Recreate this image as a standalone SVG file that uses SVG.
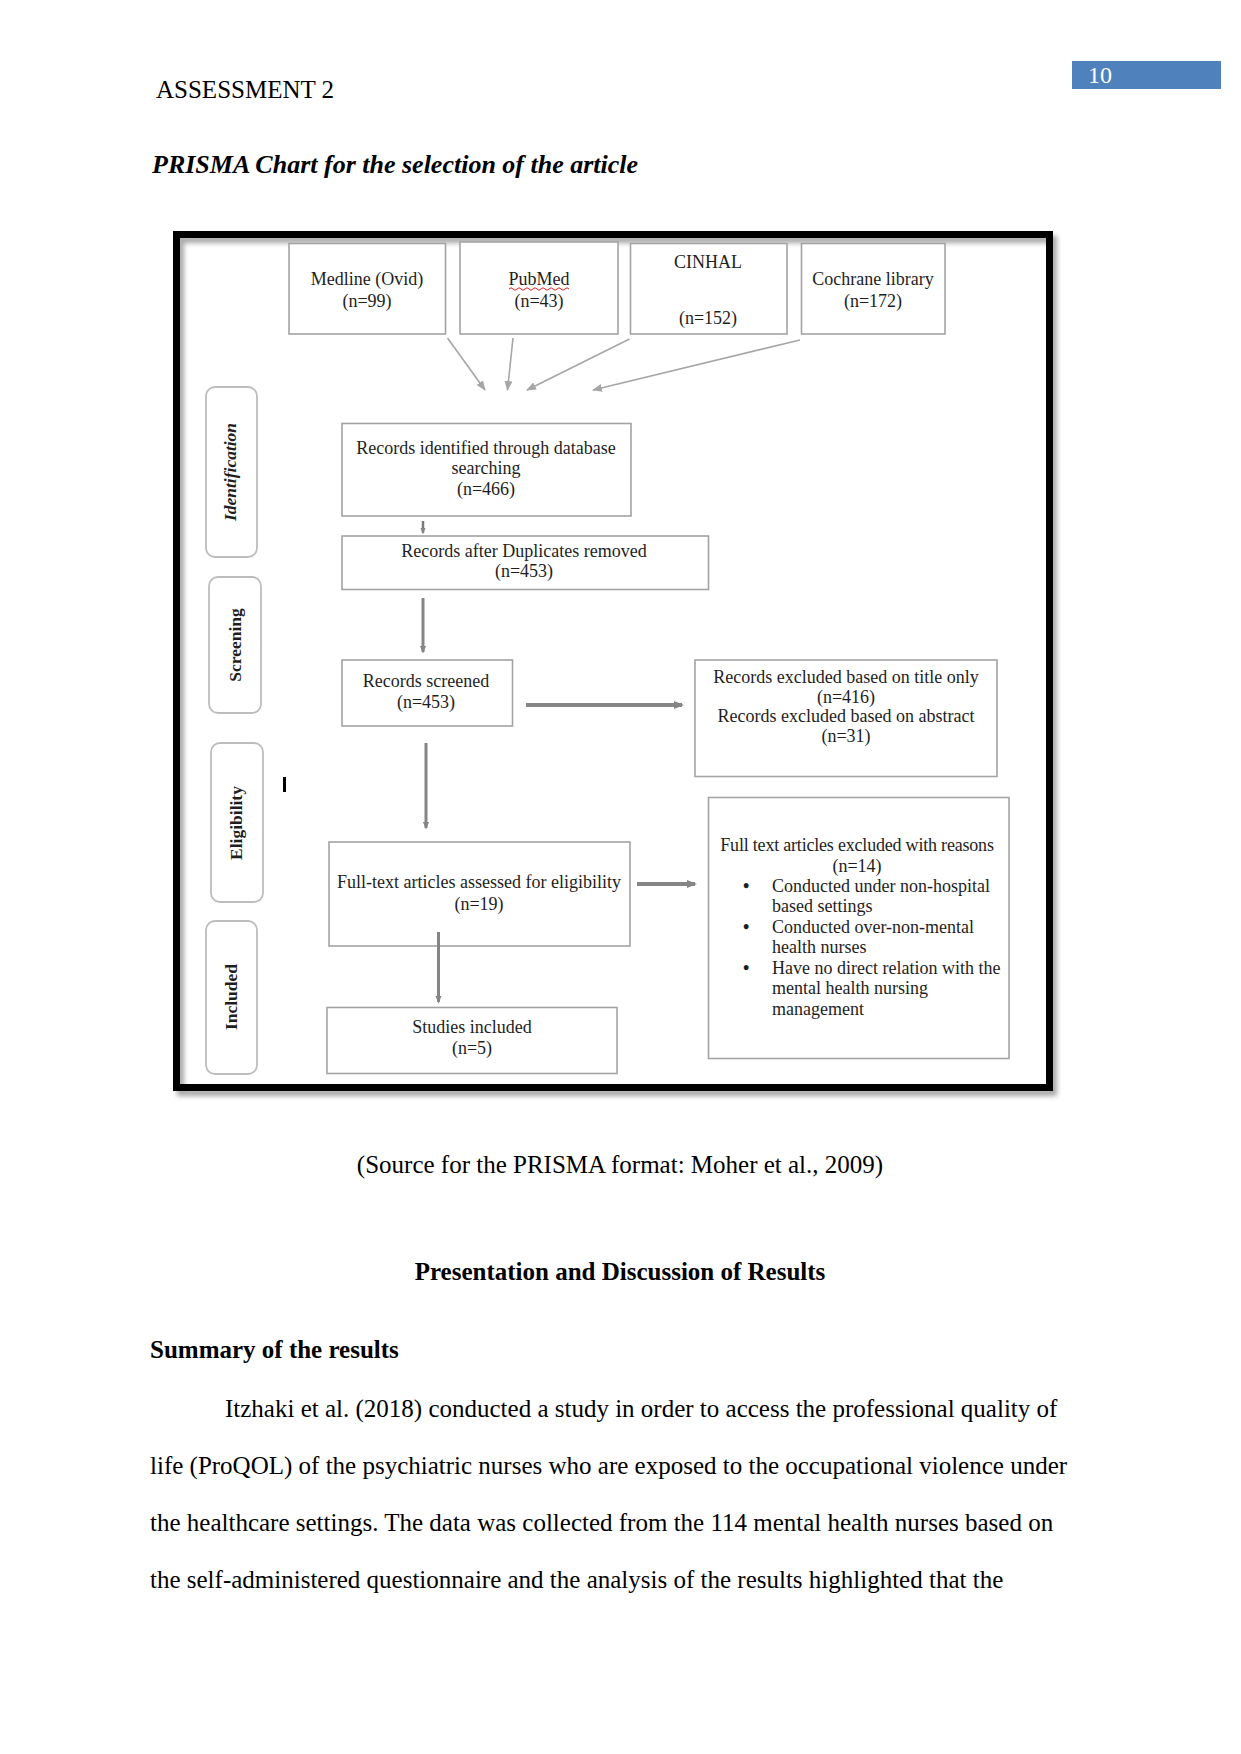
<svg xmlns="http://www.w3.org/2000/svg" width="1241" height="1754" viewBox="0 0 1241 1754">
<style>
  .page { font-family: "Liberation Serif", "Times New Roman", serif; fill: #000; font-size: 25px; }
  .dg { font-family: "Liberation Serif", "Times New Roman", serif; fill: #1e1e1e; font-size: 18px; }
  .mid { text-anchor: middle; }
  .box { fill: #fff; stroke: #a3a3a3; stroke-width: 1.6; }
  .phase { fill: #fff; stroke: #bdbdbd; stroke-width: 1.8; }
  .plabel { font-family: "Liberation Serif", "Times New Roman", serif; font-weight: bold; font-size: 17.5px; fill: #1e1e1e; text-anchor: middle; }
  .thin { stroke: #a6a6a6; stroke-width: 1.6; fill: none; marker-end: url(#ahThin); }
  .thick { stroke: #858585; stroke-width: 3; fill: none; marker-end: url(#ahThick); }
  .thicker { stroke: #858585; stroke-width: 4; fill: none; marker-end: url(#ahThick); }
</style>
<defs>
  <marker id="ahThin" markerUnits="userSpaceOnUse" markerWidth="10" markerHeight="8" refX="9" refY="4" orient="auto" viewBox="0 0 10 8">
    <path d="M0,0 L10,4 L0,8 z" fill="#a6a6a6"/>
  </marker>
  <marker id="ahThick" markerUnits="strokeWidth" markerWidth="2.6" markerHeight="2.6" refX="8" refY="5" orient="auto" viewBox="0 0 10 10">
    <path d="M0,1 L10,5 L0,9 z" fill="#858585"/>
  </marker>
  <filter id="shadow" x="-5%" y="-5%" width="115%" height="115%">
    <feDropShadow dx="4" dy="5" stdDeviation="2.5" flood-color="#000" flood-opacity="0.35"/>
  </filter>
</defs>

<rect width="1241" height="1754" fill="#fff"/>

<!-- header -->
<g id="header">
  <rect x="1072" y="61" width="149" height="28" fill="#4f81bd"/>
  <text class="page" x="1088" y="83" style="fill:#fff;font-size:24px">10</text>
  <text class="page" x="156" y="98">ASSESSMENT 2</text>
  <text class="page" x="152" y="173" style="font-weight:bold;font-style:italic;font-size:26px">PRISMA Chart for the selection of the article</text>
</g>

<!-- frame -->
<rect id="frame" x="176.5" y="234.5" width="873" height="853" fill="none" stroke="#000" stroke-width="7" filter="url(#shadow)"/>

<!-- phase labels -->
<g id="phase-identification">
  <rect class="phase" x="206" y="387" width="51" height="170" rx="9"/>
  <text class="plabel" transform="translate(236,472) rotate(-90)" style="font-style:italic">Identification</text>
</g>
<g id="phase-screening">
  <rect class="phase" x="209" y="577" width="52" height="136" rx="9"/>
  <text class="plabel" transform="translate(241,645) rotate(-90)">Screening</text>
</g>
<g id="phase-eligibility">
  <rect class="phase" x="211" y="743" width="52" height="159" rx="9"/>
  <text class="plabel" transform="translate(242,823) rotate(-90)">Eligibility</text>
</g>
<g id="phase-included">
  <rect class="phase" x="206" y="921" width="51" height="153" rx="9"/>
  <text class="plabel" transform="translate(237,997) rotate(-90)">Included</text>
</g>

<line x1="284.5" y1="777" x2="284.5" y2="792" stroke="#000" stroke-width="3"/>

<!-- source nodes -->
<g id="medline">
  <rect class="box" x="289" y="243.5" width="156.5" height="90.5"/>
  <text class="dg mid" x="367" y="285">Medline (Ovid)</text>
  <text class="dg mid" x="367" y="307">(n=99)</text>
</g>
<g id="pubmed">
  <rect class="box" x="460" y="242" width="158" height="92"/>
  <text class="dg mid" x="539" y="285">PubMed</text>
  <path d="M509,289 q2,-2.5 4,0 t4,0 t4,0 t4,0 t4,0 t4,0 t4,0 t4,0 t4,0 t4,0 t4,0 t4,0 t4,0 t4,0 t4,0" fill="none" stroke="#e02020" stroke-width="1"/>
  <text class="dg mid" x="539" y="307">(n=43)</text>
</g>
<g id="cinhal">
  <rect class="box" x="630.5" y="243.5" width="156.5" height="90.5"/>
  <text class="dg mid" x="708" y="268">CINHAL</text>
  <text class="dg mid" x="708" y="324">(n=152)</text>
</g>
<g id="cochrane">
  <rect class="box" x="801.5" y="243.5" width="143.5" height="90.5"/>
  <text class="dg mid" x="873" y="285">Cochrane library</text>
  <text class="dg mid" x="873" y="307">(n=172)</text>
</g>

<!-- flow nodes -->
<g id="identified">
  <rect class="box" x="342" y="423.5" width="289" height="92.5"/>
  <text class="dg mid" x="486" y="454">Records identified through database</text>
  <text class="dg mid" x="486" y="474">searching</text>
  <text class="dg mid" x="486" y="495">(n=466)</text>
</g>
<g id="duplicates">
  <rect class="box" x="342" y="536" width="366.5" height="53.5"/>
  <text class="dg mid" x="524" y="557">Records after Duplicates removed</text>
  <text class="dg mid" x="524" y="577">(n=453)</text>
</g>
<g id="screened">
  <rect class="box" x="342" y="660" width="170.5" height="66"/>
  <text class="dg mid" x="426" y="687">Records screened</text>
  <text class="dg mid" x="426" y="708">(n=453)</text>
</g>
<g id="excluded-screening">
  <rect class="box" x="695" y="660" width="302" height="116.5"/>
  <text class="dg mid" x="846" y="683">Records excluded based on title only</text>
  <text class="dg mid" x="846" y="703">(n=416)</text>
  <text class="dg mid" x="846" y="722">Records excluded based on abstract</text>
  <text class="dg mid" x="846" y="742">(n=31)</text>
</g>
<g id="fulltext">
  <rect class="box" x="329" y="842" width="301" height="104"/>
  <text class="dg mid" x="479" y="888">Full-text articles assessed for eligibility</text>
  <text class="dg mid" x="479" y="910">(n=19)</text>
</g>
<g id="excluded-fulltext">
  <rect class="box" x="708.5" y="797.5" width="300.5" height="261"/>
  <text class="dg mid" x="857" y="851" style="letter-spacing:-0.2px">Full text articles excluded with reasons</text>
  <text class="dg mid" x="857" y="872">(n=14)</text>
  <text class="dg" x="743" y="892" style="font-weight:bold">•</text>
  <text class="dg" x="772" y="892">Conducted under non-hospital</text>
  <text class="dg" x="772" y="912">based settings</text>
  <text class="dg" x="743" y="933" style="font-weight:bold">•</text>
  <text class="dg" x="772" y="933">Conducted over-non-mental</text>
  <text class="dg" x="772" y="953">health nurses</text>
  <text class="dg" x="743" y="974" style="font-weight:bold">•</text>
  <text class="dg" x="772" y="974">Have no direct relation with the</text>
  <text class="dg" x="772" y="994">mental health nursing</text>
  <text class="dg" x="772" y="1015">management</text>
</g>
<g id="included">
  <rect class="box" x="327" y="1007.5" width="290" height="66"/>
  <text class="dg mid" x="472" y="1033">Studies included</text>
  <text class="dg mid" x="472" y="1054">(n=5)</text>
</g>

<!-- connectors -->
<g id="connectors">
  <line class="thin" x1="447.5" y1="338" x2="485" y2="390"/>
  <line class="thin" x1="513" y1="338" x2="507.5" y2="390"/>
  <line class="thin" x1="629.5" y1="339" x2="527" y2="390"/>
  <line class="thin" x1="800" y1="340" x2="593" y2="390"/>
  <line x1="423" y1="521" x2="423" y2="533" stroke="#7a7a7a" stroke-width="2.5" marker-end="url(#ahThick)"/>
  <line class="thick" x1="423" y1="598" x2="423" y2="652"/>
  <line class="thicker" x1="526" y1="705" x2="682" y2="705"/>
  <line class="thick" x1="426" y1="743" x2="426" y2="828"/>
  <line class="thicker" x1="637" y1="884" x2="695" y2="884"/>
  <line class="thick" x1="438.5" y1="932" x2="438.5" y2="1002"/>
</g>

<!-- body text -->
<g id="body">
  <text class="page mid" x="620" y="1173">(Source for the PRISMA format: Moher et al., 2009)</text>
  <text class="page mid" x="620" y="1280" style="font-weight:bold">Presentation and Discussion of Results</text>
  <text class="page" x="150" y="1358" style="font-weight:bold">Summary of the results</text>
  <text class="page" x="225" y="1417">Itzhaki et al. (2018) conducted a study in order to access the professional quality of</text>
  <text class="page" x="150" y="1474">life (ProQOL) of the psychiatric nurses who are exposed to the occupational violence under</text>
  <text class="page" x="150" y="1531">the healthcare settings. The data was collected from the 114 mental health nurses based on</text>
  <text class="page" x="150" y="1588">the self-administered questionnaire and the analysis of the results highlighted that the</text>
</g>
</svg>
